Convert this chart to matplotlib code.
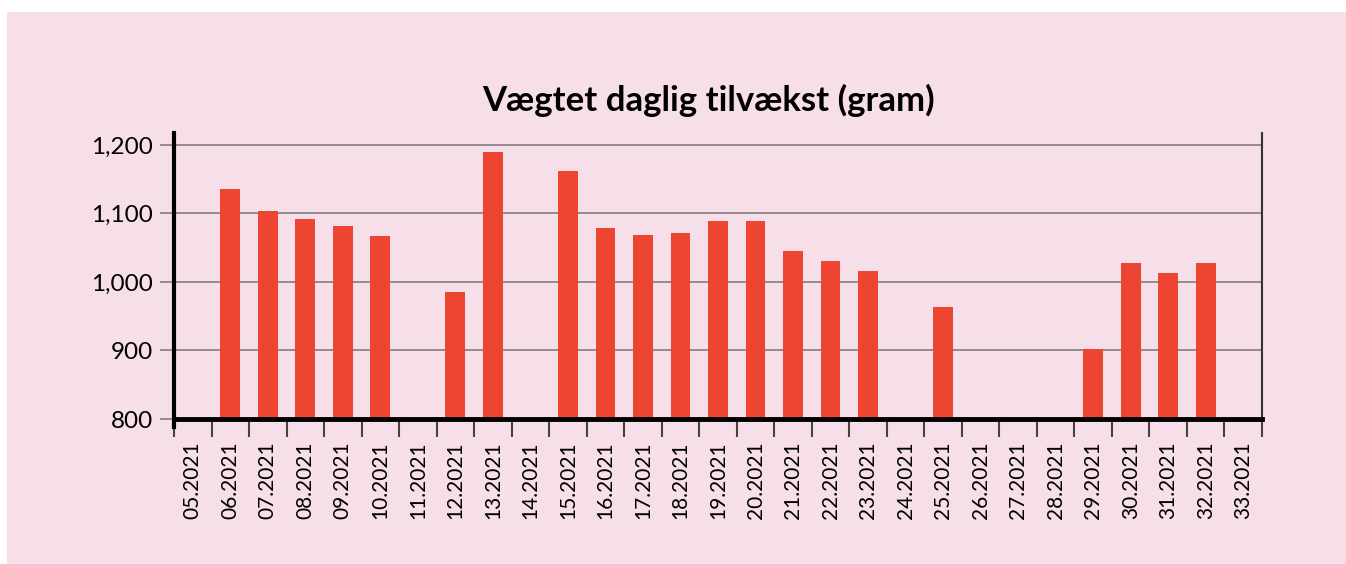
import matplotlib
matplotlib.use("Agg")
import matplotlib.pyplot as plt
import numpy as np
from matplotlib.patches import Rectangle

plt.rcParams['font.family'] = ['Lato', 'DejaVu Sans']

# weeks 05.2021 .. 33.2021, None = no bar
weeks = ['%02d.2021' % w for w in range(5, 34)]
growth = [None, 1136, 1103, 1092, 1082, 1067, None, 985, 1190, None,
          1162, 1079, 1069, 1071, 1089, 1089, 1045, 1031, 1016, None,
          963, None, None, None, 902, 1028, 1013, 1028, None]
yticks = [800, 900, 1000, 1100, 1200]
yticklabels = ['800', '900', '1,000', '1,100', '1,200']

pink = '#F7DFE9'
red = '#EE4533'

fig = plt.figure(figsize=(13.46, 5.64), dpi=100)
fig.patch.set_facecolor('white')
fig.patches.append(Rectangle((7 / 1346, 0), 1, 1 - 12 / 564, transform=fig.transFigure,
                             facecolor=pink, edgecolor='none', zorder=-10))

ax = fig.add_axes([174 / 1346, (564 - 419) / 564, (1262 - 174) / 1346, (419 - 133) / 564])
ax.set_facecolor(pink)

x = np.arange(len(weeks))
xs = [i for i, v in zip(x, growth) if v is not None]
vals = [v for v in growth if v is not None]
ax.bar(xs, [v - 800 for v in vals], bottom=800, width=0.53, color=red, zorder=3)

ax.set_xlim(-0.5, len(weeks) - 0.5)
ax.set_ylim(800, 1217.5)

ax.set_yticks(yticks)
ax.set_yticklabels(yticklabels, fontsize=17.5)
ax.yaxis.grid(True, color='#8a8487', linewidth=1.3, zorder=1)
ax.tick_params(axis='y', length=10, width=1.3, color='#8a8487', pad=5)

ax.set_xticks(x)
ax.set_xticklabels(weeks, rotation=90, fontsize=15)
ax.set_xticks(np.arange(-0.5, len(weeks)), minor=True)
ax.tick_params(axis='x', which='major', length=0, pad=16)
ax.tick_params(axis='x', which='minor', length=13, width=1.5, color='#444444')

ax.spines['top'].set_visible(False)
ax.spines['left'].set_linewidth(3)
ax.spines['left'].set_bounds(788, 1217.5)
ax.spines['bottom'].set_linewidth(3.5)
ax.spines['right'].set_linewidth(1.5)
ax.spines['right'].set_color('#333333')
ax.spines['bottom'].set_zorder(5)

fig.text(708 / 1346, 1 - 100 / 564, 'Vægtet daglig tilvækst (gram)', ha='center', va='center',
         fontsize=25, fontweight='bold')

fig.savefig('out.png', dpi=100, facecolor=fig.get_facecolor())
